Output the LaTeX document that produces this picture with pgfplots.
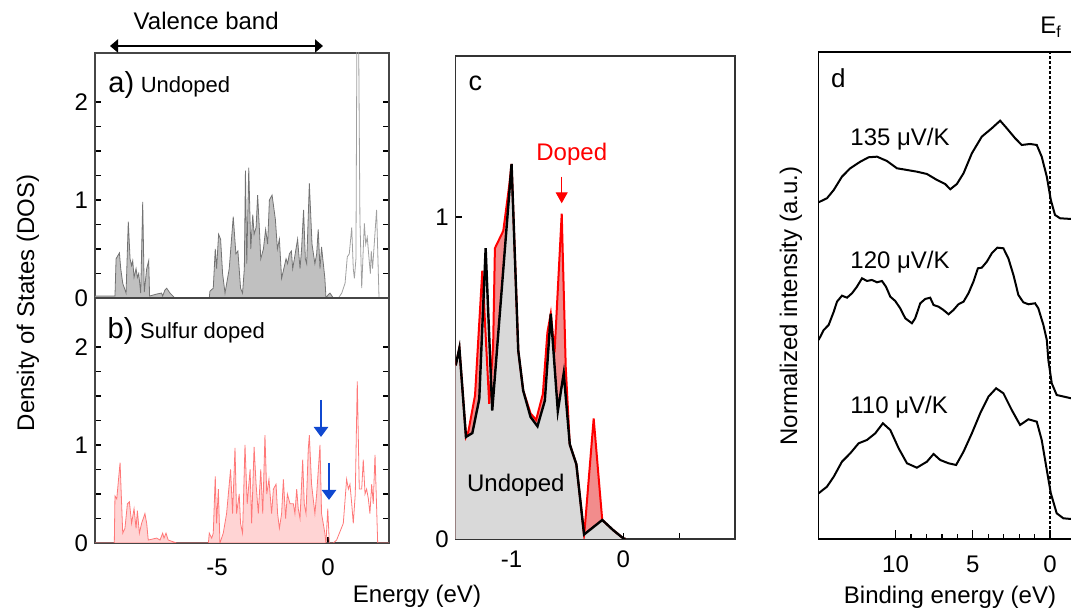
\documentclass[border=0pt]{standalone}
\usepackage{fontspec}
\setmainfont{Liberation Sans}
\usepackage{pgfplots}
\pgfplotsset{compat=1.18}
\usepackage{pgfplotstable}
\usetikzlibrary{arrows.meta}

\definecolor{undfill}{RGB}{192,192,192}
\definecolor{undline}{RGB}{115,115,115}
\definecolor{cbline}{RGB}{160,160,160}
\definecolor{dopfill}{RGB}{255,212,212}
\definecolor{dopline}{RGB}{255,120,120}
\definecolor{cgray}{RGB}{217,217,217}
\definecolor{cred}{RGB}{242,140,140}
\definecolor{arrblue}{RGB}{16,72,208}
\definecolor{framegray}{RGB}{70,70,70}

% panel a: undoped DOS
\pgfplotstableread{
E D
-10.5 0.02
-9.60 0.02
-9.55 0.40
-9.40 0.46
-9.34 0.30
-9.25 0.15
-9.10 0.05
-9.00 0.78
-8.92 0.40
-8.85 0.33
-8.80 0.38
-8.74 0.21
-8.65 0.30
-8.59 0.21
-8.53 0.25
-8.44 0.05
-8.35 0.98
-8.28 0.06
-8.17 0.30
-8.08 0.38
-8.04 0.02
-7.72 0.04
-7.50 0.05
-7.45 0.02
-7.35 0.08
-7.27 0.10
-7.12 0.05
-6.90 0.00
-5.35 0.00
-5.32 0.07
-5.17 0.10
-5.08 0.50
-5.02 0.30
-4.93 0.65
-4.84 0.60
-4.75 0.25
-4.64 0.05
-4.45 0.30
-4.27 0.83
-4.15 0.45
-4.06 0.48
-3.94 0.10
-3.85 0.05
-3.77 0.30
-3.72 1.30
-3.66 0.35
-3.57 1.33
-3.48 0.50
-3.39 0.85
-3.33 0.65
-3.24 0.72
-3.17 1.05
-3.09 0.70
-3.03 0.40
-2.91 0.50
-2.81 0.70
-2.72 0.55
-2.64 1.00
-2.52 1.05
-2.37 0.80
-2.28 0.50
-2.19 0.60
-2.09 0.20
-1.89 0.40
-1.82 0.35
-1.74 0.45
-1.65 0.48
-1.59 0.30
-1.50 0.42
-1.37 0.60
-1.26 0.30
-1.19 0.50
-1.10 0.90
-1.02 0.40
-0.96 0.35
-0.84 1.17
-0.72 0.55
-0.59 0.35
-0.51 0.45
-0.44 0.70
-0.36 0.30
-0.29 0.52
-0.14 0.20
-0.09 0.00
0.00 0.03
0.09 0.05
0.24 0.00
}\vba
\pgfplotstableread{
E D
0.24 0.00
0.47 0.00
0.62 0.05
0.77 0.15
0.87 0.42
0.96 0.45
1.07 0.72
1.14 0.30
1.19 0.20
1.26 0.40
1.31 3.00
1.37 3.00
1.44 0.80
1.52 0.10
1.59 0.50
1.64 0.76
1.70 0.55
1.77 0.62
1.85 0.40
1.91 0.25
1.95 0.48
2.01 0.30
2.19 0.90
2.30 0.00
2.76 0.00
}\cba

% panel b: sulfur doped DOS
\pgfplotstableread{
E D
-10.5 0.00
-9.63 0.00
-9.60 0.48
-9.52 0.45
-9.37 0.82
-9.25 0.10
-9.15 0.15
-9.04 0.40
-8.95 0.42
-8.85 0.20
-8.74 0.35
-8.65 0.15
-8.59 0.33
-8.50 0.10
-8.40 0.20
-8.25 0.30
-8.17 0.20
-8.10 0.03
-7.72 0.05
-7.57 0.03
-7.45 0.10
-7.39 0.05
-7.30 0.10
-7.20 0.03
-6.82 0.00
-5.39 0.00
-5.35 0.10
-5.24 0.05
-5.17 0.10
-5.08 0.68
-5.02 0.20
-4.94 0.55
-4.87 0.00
-4.72 0.10
-4.57 0.30
-4.39 0.75
-4.30 0.30
-4.19 0.97
-4.12 0.30
-4.00 0.50
-3.94 0.20
-3.85 0.10
-3.74 1.00
-3.64 0.40
-3.51 0.75
-3.44 0.20
-3.33 0.98
-3.24 0.60
-3.14 0.30
-3.03 0.75
-2.94 0.30
-2.84 1.10
-2.76 0.50
-2.66 0.65
-2.54 0.30
-2.46 0.55
-2.34 0.60
-2.27 0.30
-2.19 0.15
-2.09 0.30
-2.01 0.65
-1.91 0.25
-1.83 0.50
-1.71 0.40
-1.56 0.40
-1.49 0.30
-1.41 0.55
-1.34 0.35
-1.26 0.25
-1.14 0.85
-1.07 0.40
-0.99 0.30
-0.89 0.95
-0.84 1.10
-0.74 0.60
-0.59 0.30
-0.51 0.50
-0.36 1.00
-0.29 0.30
-0.14 0.10
-0.09 0.00
}\vbb
\pgfplotstableread{
E D
-0.09 0.00
-0.01 0.35
0.06 0.00
0.24 0.00
0.39 0.03
0.69 0.20
0.84 0.65
0.92 0.55
0.99 0.60
1.07 0.40
1.14 0.20
1.23 0.50
1.32 1.65
1.41 0.55
1.52 0.55
1.59 0.85
1.67 0.50
1.74 0.55
1.82 0.45
1.89 0.30
1.97 0.60
2.04 0.40
2.12 0.90
2.24 0.00
2.76 0.00
}\cbb

% panel c: zoom near the valence band edge
\pgfplotstableread{
E D
-1.500 0.539
-1.467 0.593
-1.408 0.317
-1.351 0.329
-1.289 0.435
-1.232 0.903
-1.173 0.399
-1.000 1.165
-0.940 0.585
-0.896 0.461
-0.830 0.379
-0.768 0.350
-0.702 0.430
-0.649 0.700
-0.586 0.397
-0.533 0.515
-0.479 0.294
-0.420 0.232
-0.351 0.014
-0.188 0.059
-0.092 0.028
0.000 0.002
0.020 0.000
}\cund
\pgfplotstableread{
E D
-1.500 0.539
-1.467 0.593
-1.408 0.317
-1.387 0.333
-1.327 0.446
-1.262 0.833
-1.200 0.420
-1.165 0.600
-1.149 0.903
-1.074 0.957
-1.020 1.100
-1.000 1.165
-0.940 0.585
-0.896 0.461
-0.830 0.390
-0.780 0.370
-0.720 0.450
-0.679 0.642
-0.649 0.700
-0.615 0.580
-0.551 1.010
-0.515 0.533
-0.479 0.294
-0.420 0.232
-0.351 0.014
-0.345 0.033
-0.265 0.374
-0.196 0.090
-0.188 0.059
-0.092 0.028
0.000 0.002
0.020 0.000
}\cdop

% panel d: photoemission spectra (offset, arbitrary units)
\pgfplotstableread{
B I
14.98 336.7
14.44 340.7
14.00 349.0
13.47 362.3
12.93 370.7
12.28 377.3
11.74 381.7
11.20 382.3
10.56 378.0
9.91 370.7
9.26 369.0
8.62 367.3
7.97 365.0
7.32 359.0
6.79 355.0
6.46 349.7
6.03 355.0
5.60 365.7
5.06 385.7
4.42 402.3
3.77 410.7
3.23 418.3
2.80 410.7
2.26 400.7
1.83 394.0
1.29 395.0
0.86 394.0
0.54 382.3
0.21 362.3
-0.05 339.0
-0.32 324.0
-0.65 320.7
-1.36 320.0
-3.00 320.0
}\specA
\pgfplotstableread{
B I
14.98 199.0
14.65 209.0
14.33 214.0
14.00 227.3
13.79 237.3
13.47 243.3
13.14 241.3
12.82 245.7
12.50 252.3
12.17 260.7
11.85 258.0
11.53 259.0
11.20 256.7
10.88 258.0
10.62 252.3
10.34 242.3
10.02 238.0
9.70 230.7
9.37 220.7
8.94 215.7
8.73 220.7
8.40 235.7
8.08 240.0
7.76 241.3
7.54 234.0
7.22 232.3
6.90 229.0
6.57 224.7
6.25 229.0
5.93 234.7
5.60 237.3
5.28 245.7
4.96 257.3
4.67 270.7
4.42 271.3
4.09 277.3
3.77 285.7
3.41 291.3
3.02 290.7
2.70 280.7
2.37 264.0
2.05 244.0
1.73 236.7
1.40 234.7
0.97 235.7
0.76 230.7
0.43 214.0
0.21 199.0
0.11 179.0
-0.11 155.7
-0.43 144.0
-1.36 140.7
-3.00 140.7
}\specB
\pgfplotstableread{
B I
14.98 45.7
14.44 52.3
14.00 62.3
13.47 77.3
12.93 85.7
12.39 95.7
11.85 99.0
11.31 105.7
10.82 115.7
10.34 109.0
9.80 90.7
9.26 75.7
8.62 71.3
7.97 77.3
7.54 85.0
7.11 79.0
6.57 75.7
6.08 74.0
5.60 87.3
5.06 105.7
4.52 125.7
3.99 142.3
3.49 150.7
3.02 145.7
2.48 129.0
1.94 114.0
1.40 119.7
0.86 117.3
0.54 99.0
0.21 69.0
-0.05 45.7
-0.43 25.7
-0.86 20.7
-1.36 20.0
-3.00 20.0
}\specC

\pgfplotsset{
  every axis/.append style={
    scale only axis,
    anchor=south west,
    font=\fontsize{12}{14}\selectfont,
    tick label style={font=\fontsize{12}{14}\selectfont},
    /pgf/number format/assume math mode=true,
    axis line style={line width=0.8pt, framegray},
    tick style={line width=0.6pt, black},
    major tick length=3pt,
    minor tick length=3pt,
    tick align=inside,
  },
}

\begin{document}
\begin{tikzpicture}
\useasboundingbox (0,0) rectangle (535.5pt,306.5pt);
\clip (0,0) rectangle (535.5pt,306.5pt);

% a) undoped
\begin{axis}[at={(47.5pt,157.5pt)}, width=147pt, height=122.5pt,
  xmin=-10.5, xmax=2.75, ymin=0, ymax=2.5,
  xtick=\empty, ytick={0,1,2}, minor y tick num=3]
\addplot[fill=undfill, draw=undline, line width=0.4pt] table[x=E,y=D]{\vba} \closedcycle;
\addplot[cbline, line width=0.4pt] table[x=E,y=D]{\cba};
\end{axis}

% b) sulfur doped
\begin{axis}[at={(47.5pt,35pt)}, width=147pt, height=122.5pt,
  xmin=-10.5, xmax=2.75, ymin=0, ymax=2.5,
  xtick={-5,0}, xticklabels={-5,0}, xtick pos=left,
  xticklabel style={yshift=-4.5pt},
  ytick={0,1,2}, minor y tick num=3]
\addplot[fill=dopfill, draw=dopline, line width=0.4pt] table[x=E,y=D]{\vbb} \closedcycle;
\addplot[dopline, line width=0.4pt] table[x=E,y=D]{\cbb};
\end{axis}

% c) edge comparison
\begin{axis}[at={(227.85pt,37pt)}, width=139.65pt, height=241.5pt,
  xmin=-1.5, xmax=1.0, ymin=0, ymax=1.5,
  axis line style={line width=0.6pt, black!80},
  xtick={-1,0}, xticklabels={-1,0}, minor xtick={-0.5,0.5}, xtick pos=left,
  xticklabel style={yshift=-2.5pt},
  ytick={0,1}, ytick pos=left]
\addplot[fill=cred, draw=none] table[x=E,y=D]{\cdop} \closedcycle;
\addplot[fill=cgray, draw=none] table[x=E,y=D]{\cund} \closedcycle;
\addplot[red, line width=1pt] table[x=E,y=D]{\cdop};
\addplot[black, line width=1.2pt] table[x=E,y=D]{\cund};
\end{axis}

% d) photoemission
\begin{axis}[at={(409.15pt,37pt)}, width=139.05pt, height=243.35pt,
  x dir=reverse, xmin=-3, xmax=15, ymin=0, ymax=486.7,
  axis line style={line width=0.8pt, black},
  xtick={0,5,10}, minor x tick num=4, xtick pos=left,
  xticklabel style={yshift=-5pt},
  major tick length=4.5pt, minor tick length=2.3pt,
  ytick=\empty]
\draw[black, line width=0.6pt, dash pattern=on 1.5pt off 1pt] (axis cs:0,0) -- (axis cs:0,486.7);
\addplot[black, line width=1pt] table[x=B,y=I]{\specA};
\addplot[black, line width=1pt] table[x=B,y=I]{\specB};
\addplot[black, line width=1pt] table[x=B,y=I]{\specC};
\end{axis}

% annotations, placed in image pixel coordinates
\begin{scope}[shift={(0pt,306.5pt)}, x=0.5pt, y=-0.5pt,
  every node/.style={inner sep=0pt, font=\fontsize{12}{14}\selectfont}]
\node[anchor=base west] at (133.3,30) {Valence band};
\draw[{Triangle[length=4pt,width=6.5pt]}-{Triangle[length=4pt,width=6.5pt]}, line width=1.2pt] (110,46) -- (323,46);
\node[anchor=base west] at (108,93) {{\fontsize{14.5}{16}\selectfont a)} {\fontsize{11}{13}\selectfont Undoped}};
\node[anchor=base west] at (107.3,338.3) {{\fontsize{14.5}{16}\selectfont b)} {\fontsize{11}{13}\selectfont Sulfur doped}};
\draw[-{Triangle[length=5pt,width=7pt]}, line width=1.2pt, arrblue] (321,400) -- (321,437);
\draw[-{Triangle[length=5pt,width=7pt]}, line width=1.2pt, arrblue] (329,463) -- (329,500);
\node[rotate=90, anchor=base] at (34,303) {Density of States (DOS)};
\node[anchor=base] at (417,603) {Energy (eV)};

\node[anchor=base west] at (468.3,90.7) {\fontsize{13.5}{15}\selectfont c};
\node[anchor=base west, text=red] at (536,160.7) {Doped};
\draw[-{Triangle[length=5.5pt,width=6pt]}, line width=0.6pt, red] (561.7,176.7) -- (561.7,203.3);
\node[anchor=base west] at (466.7,491.7) {Undoped};

\node[anchor=base west] at (830.7,87.3) {\fontsize{13}{15}\selectfont d};
\node[anchor=base west] at (850,145.7) {135 μV/K};
\node[anchor=base west] at (850,268.3) {120 μV/K};
\node[anchor=base west] at (850,413.3) {110 μV/K};
\node[anchor=base west] at (1040,33.3) {E\raisebox{-2pt}{\fontsize{8}{9}\selectfont f}};
\node[rotate=90, anchor=base] at (797,306) {Normalized intensity (a.u.)};
\node[anchor=base] at (950,603.3) {Binding energy (eV)};
\end{scope}
\end{tikzpicture}
\end{document}
